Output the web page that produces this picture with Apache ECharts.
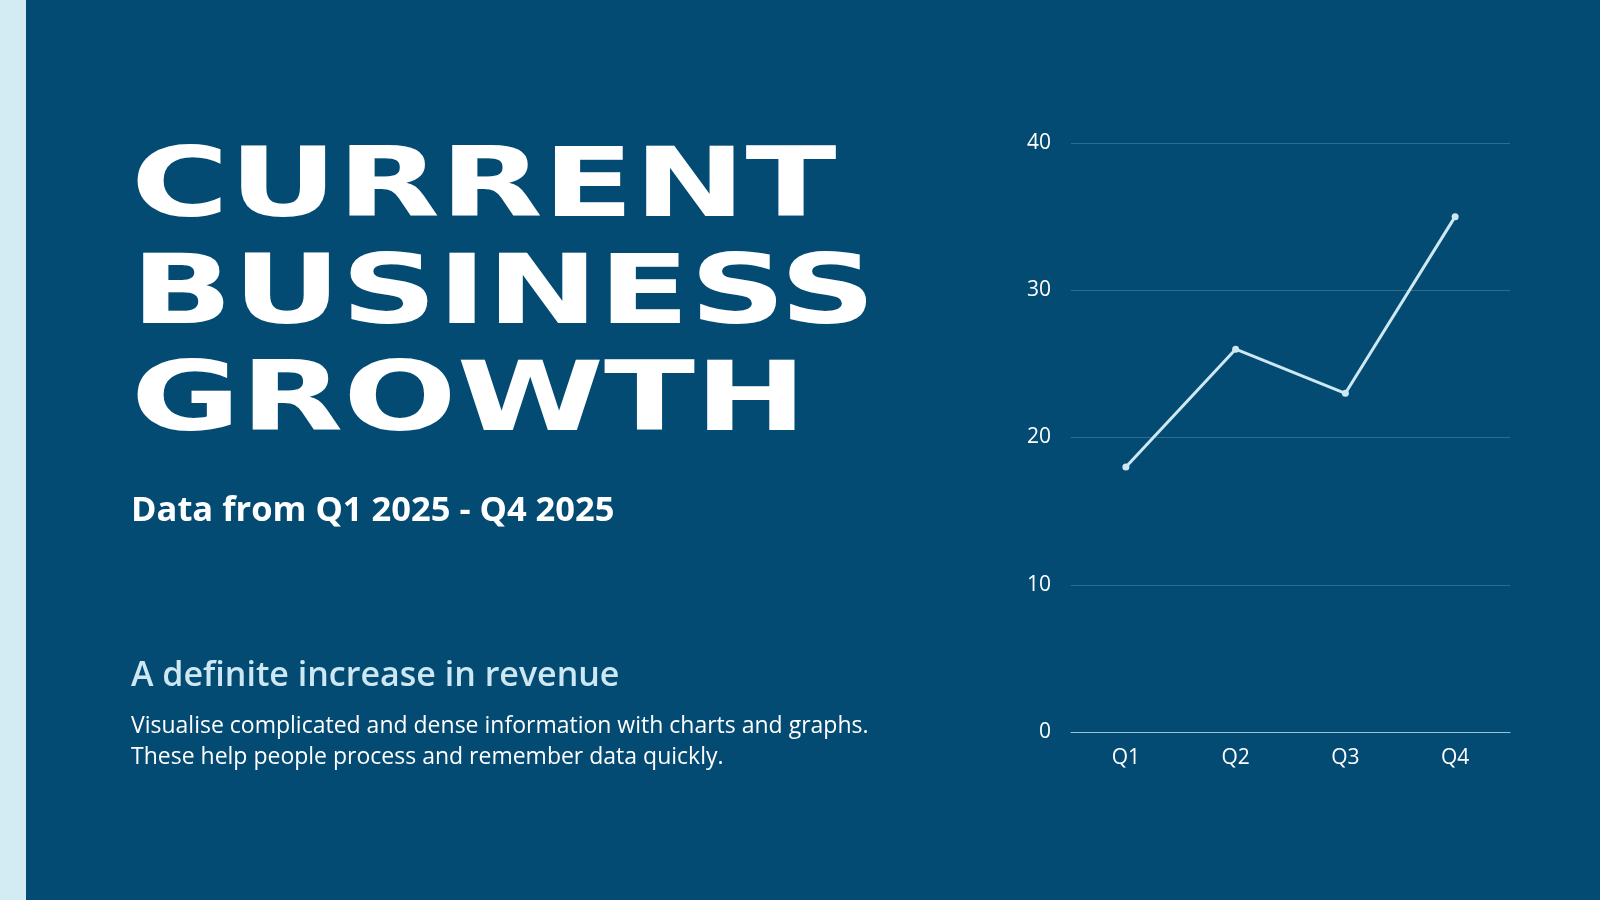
<!DOCTYPE html>
<html>
<head>
<meta charset="utf-8">
<script src="https://cdn.jsdelivr.net/npm/echarts@6/dist/echarts.min.js"></script>
<style>
html, body { margin: 0; padding: 0; background: #044B73; }
#container { width: 1600px; height: 900px; }
</style>
</head>
<body>
<div id="container"></div>
<script>
// quarters and revenue values
var quarters = ['Q1', 'Q2', 'Q3', 'Q4'];
var revenue = [18, 26, 23, 35];
var titleLines = ['CURRENT', 'BUSINESS', 'GROWTH'];

var myChart = echarts.init(document.getElementById('container'));

var graphics = [{
	type: 'rect',
	shape: { x: 0, y: 0, width: 26, height: 900 },
	style: { fill: '#D3EBF3' }
}];
// big title, stretched wide like the original heavy font
titleLines.forEach(function(t, i) {
	graphics.push({
		type: 'text',
		x: 131,
		y: 143 + i * 107,
		scaleX: 1.39,
		style: {
			text: t,
			fill: '#ffffff',
			font: '900 96px "DejaVu Sans"',
			textVerticalAlign: 'top'
		}
	});
});
graphics.push({
	type: 'text', x: 131, y: 511,
	style: { text: 'Data from Q1 2025 - Q4 2025', fill: '#ffffff', font: 'bold 34.5px "Open Sans"', textVerticalAlign: 'middle' }
}, {
	type: 'text', x: 131, y: 676,
	style: { text: 'A definite increase in revenue', fill: '#CDE8F2', font: '600 34px "Open Sans"', textVerticalAlign: 'middle' }
}, {
	type: 'text', x: 131, y: 726,
	style: { text: 'Visualise complicated and dense information with charts and graphs.', fill: '#ffffff', font: '23px "Open Sans"', textVerticalAlign: 'middle' }
}, {
	type: 'text', x: 131, y: 757,
	style: { text: 'These help people process and remember data quickly.', fill: '#ffffff', font: '23px "Open Sans"', textVerticalAlign: 'middle' }
});

var option = {
	backgroundColor: '#044B73',
	animation: false,
	grid: { left: 1071, right: 90, top: 143, height: 589 },
	xAxis: {
		type: 'category',
		data: quarters,
		axisLine: { lineStyle: { color: '#9FC3D6', width: 1 } },
		axisTick: { show: false },
		axisLabel: { color: '#ffffff', fontSize: 21, fontFamily: 'Open Sans', margin: 16 }
	},
	yAxis: {
		type: 'value',
		min: 0,
		max: 40,
		interval: 10,
		axisLine: { show: false },
		axisTick: { show: false },
		axisLabel: { color: '#ffffff', fontSize: 21, fontFamily: 'Open Sans', margin: 20 },
		splitLine: { lineStyle: { color: '#2C6D92', width: 1 } }
	},
	series: [{
		type: 'line',
		data: revenue,
		symbol: 'circle',
		symbolSize: 7,
		lineStyle: { color: '#CDE8F2', width: 3 },
		itemStyle: { color: '#CDE8F2' }
	}],
	graphic: graphics
};
myChart.setOption(option);
</script>
</body>
</html>
